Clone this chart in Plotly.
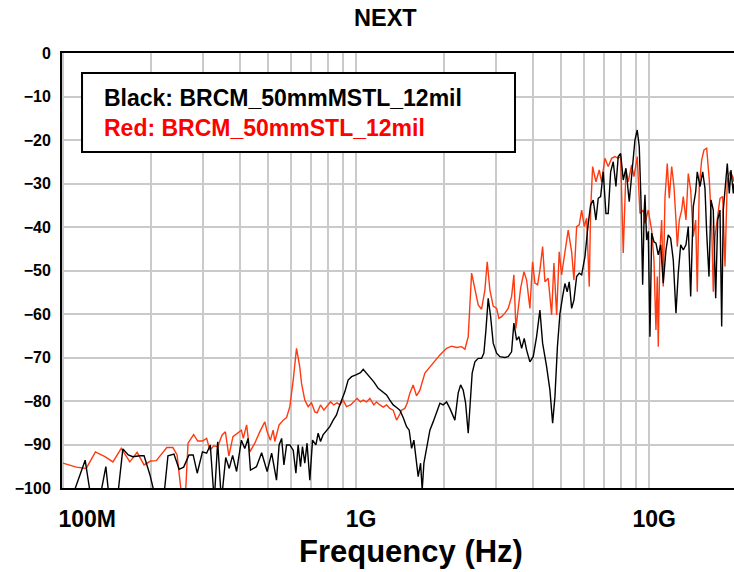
import math
import plotly.graph_objects as go

# NEXT crosstalk, magnitude in dB versus frequency in MHz
red_freq_mhz = [
    100, 111, 120, 129, 139, 148, 158, 169, 179, 189, 199, 208, 226, 237, 245, 255, 261,
    267, 279, 288, 299, 309, 317, 327, 337, 349, 358, 368, 380, 396, 406, 412, 423, 434,
    451, 469, 488, 497, 510, 521, 528, 546, 564, 579, 594, 610, 626, 642, 651, 668, 686,
    704, 723, 736, 756, 776, 796, 818, 839, 861, 880, 903, 927, 957, 982, 1008, 1035,
    1057, 1085, 1114, 1149, 1174, 1205, 1237, 1270, 1303, 1338, 1374, 1410, 1429, 1466,
    1493, 1525, 1565, 1607, 1650, 1716, 1809, 1931, 2035, 2117, 2202, 2290, 2350, 2412,
    2477, 2542, 2609, 2679, 2749, 2800, 2860, 2935, 3015, 3069, 3135, 3217, 3302, 3391,
    3453, 3508, 3572, 3640, 3736, 3816, 3916, 3999, 4073, 4160, 4236, 4327, 4406, 4522,
    4644, 4729, 4831, 4930, 5023, 5156, 5290, 5435, 5534, 5653, 5770, 5880, 6002, 6115,
    6242, 6310, 6409, 6578, 6751, 6879, 7060, 7245, 7442, 7636, 7837, 7987, 8152, 8327,
    8478, 8708, 8867, 9099, 9296, 9539, 9668, 9922, 10190, 10376, 10541, 10649, 10733,
    10877, 11023, 11163, 11313, 11519, 11703, 11926, 12143, 12335, 12463, 12660, 12901,
    13062, 13344, 13587, 13846, 14132, 14401, 14582, 14813, 15095, 15371, 15700, 16025,
    16331, 16536, 16758, 17065, 17431, 17804, 18131, 18460, 18855, 19259, 19459,
]
red_db = [
    -94.3, -95.2, -95.5, -91.7, -92.8, -94.0, -90.9, -94.0, -91.8, -94.7, -93.8, -93.7,
    -90.7, -90.7, -92.4, -103.0, -103.0, -89.7, -87.7, -89.2, -89.2, -88.6, -91.3, -90.3,
    -90.5, -87.8, -87.1, -92.6, -88.2, -87.3, -86.7, -88.6, -85.5, -91.7, -89.7, -87.1,
    -84.8, -87.1, -89.0, -86.7, -89.3, -85.5, -84.4, -83.8, -81.3, -75.2, -67.9, -72.1,
    -75.9, -79.8, -81.3, -80.4, -82.5, -82.7, -80.9, -82.1, -81.3, -80.2, -80.9, -80.4,
    -80.9, -79.8, -81.3, -80.9, -80.2, -79.4, -80.2, -79.8, -80.2, -79.4, -80.9, -80.2,
    -80.9, -81.4, -80.9, -81.7, -82.1, -84.4, -83.0, -82.1, -81.7, -80.5, -78.2, -76.3,
    -78.8, -77.5, -73.6, -71.7, -69.4, -67.9, -67.4, -67.7, -67.5, -68.1, -65.2, -50.6,
    -54.1, -57.9, -58.9, -54.5, -48.0, -54.5, -58.2, -58.7, -61.0, -60.6, -59.8, -58.7,
    -56.0, -51.0, -63.3, -58.3, -54.1, -50.3, -52.2, -58.7, -48.0, -52.9, -53.3, -49.9,
    -44.5, -52.6, -51.8, -60.2, -48.3, -60.2, -45.7, -51.0, -46.0, -40.7, -45.7, -52.2,
    -39.9, -39.5, -36.1, -39.9, -38.0, -53.7, -36.1, -26.1, -29.6, -26.9, -29.6, -24.2,
    -26.1, -24.2, -23.8, -24.2, -23.8, -46.0, -26.9, -29.6, -25.7, -28.4, -23.8, -36.9,
    -36.1, -39.2, -36.1, -40.7, -47.6, -63.7, -51.4, -67.5, -45.3, -38.4, -53.7, -33.4,
    -25.4, -33.4, -26.1, -30.7, -38.4, -44.5, -38.4, -36.1, -33.0, -38.4, -27.7, -31.5,
    -42.2, -38.4, -54.9, -30.7, -24.6, -22.3, -21.9, -29.2, -39.9, -54.9, -42.2, -38.4,
    -33.4, -33.0, -49.1, -29.2, -27.3, -28.4, -29.6,
]

black_freq_mhz = [
    100, 110, 119, 125, 133, 140, 144, 153, 160, 167, 173, 183, 189, 198, 208, 220, 228,
    239, 249, 258, 269, 278, 287, 299, 309, 318, 328, 337, 347, 359, 369, 379, 391, 406,
    417, 428, 436, 457, 476, 497, 515, 535, 546, 557, 567, 579, 594, 610, 623, 634, 646,
    656, 668, 680, 695, 710, 729, 742, 756, 771, 793, 813, 835, 857, 875, 899, 915, 939,
    965, 998, 1035, 1057, 1085, 1114, 1149, 1189, 1231, 1270, 1303, 1338, 1374, 1410,
    1447, 1486, 1517, 1546, 1574, 1607, 1628, 1659, 1680, 1703, 1739, 1785, 1831, 1881,
    1931, 1981, 2035, 2088, 2143, 2172, 2229, 2272, 2319, 2363, 2412, 2444, 2488, 2542,
    2609, 2679, 2728, 2772, 2822, 2876, 2935, 3015, 3093, 3217, 3302, 3391, 3453, 3527,
    3592, 3669, 3745, 3816, 3916, 4019, 4127, 4236, 4327, 4465, 4583, 4681, 4767, 4861,
    4957, 5063, 5156, 5249, 5333, 5435, 5534, 5653, 5770, 5880, 6034, 6192, 6310, 6440,
    6578, 6697, 6825, 6966, 7116, 7245, 7384, 7535, 7697, 7837, 7987, 8152, 8327, 8545,
    8708, 8937, 9099, 9244, 9369, 9495, 9614, 9668, 9797, 9922, 10055, 10190, 10376,
    10541, 10733, 10937, 11163, 11402, 11610, 11830, 12076, 12335, 12560, 12800, 13062,
    13344, 13587, 13846, 14132, 14401, 14582, 14894, 15216, 15492, 15700, 15988, 16240,
    16536, 16851, 17118, 17431, 17664, 17889, 18173, 18460, 18750, 19002, 19355, 19459,
]
black_db = [
    -108.0, -100.0, -93.6, -103.0, -103.0, -95.1, -103.0, -103.0, -91.0, -92.4, -92.8,
    -92.6, -92.6, -97.0, -103.0, -103.0, -92.6, -92.2, -95.7, -95.2, -92.4, -92.4, -96.6,
    -91.7, -92.0, -90.1, -103.0, -89.4, -103.0, -93.0, -95.5, -92.5, -96.2, -89.0, -90.9,
    -88.6, -95.9, -95.1, -91.9, -96.2, -92.0, -98.2, -90.1, -88.6, -94.7, -90.1, -90.1,
    -91.3, -96.6, -90.1, -95.1, -90.5, -94.3, -89.7, -98.2, -89.0, -90.1, -87.4, -89.3,
    -87.8, -86.7, -85.9, -84.4, -83.2, -81.3, -79.4, -77.9, -75.2, -74.4, -74.0, -73.5,
    -72.7, -73.6, -74.4, -75.6, -77.1, -77.9, -78.6, -79.8, -80.9, -81.5, -82.1, -83.8,
    -85.9, -86.7, -90.9, -89.0, -93.6, -97.4, -94.3, -100.5, -94.3, -90.5, -86.7, -84.8,
    -82.5, -80.5, -80.9, -80.2, -81.7, -83.6, -84.4, -78.2, -76.3, -77.5, -80.5, -87.4,
    -80.5, -73.6, -71.0, -70.2, -70.2, -69.0, -63.7, -56.4, -60.6, -66.7, -69.0, -69.8,
    -70.0, -69.8, -68.7, -62.1, -66.0, -65.2, -67.9, -65.6, -68.3, -71.0, -69.8, -65.2,
    -59.1, -66.7, -72.1, -77.5, -85.1, -79.0, -67.5, -60.0, -56.0, -53.0, -54.9, -52.6,
    -58.7, -56.8, -51.4, -50.6, -51.0, -46.8, -39.2, -34.9, -33.8, -38.4, -33.4, -33.0,
    -27.3, -36.9, -36.9, -27.3, -25.0, -30.7, -23.8, -23.1, -29.2, -26.5, -34.2, -28.0,
    -20.0, -17.7, -21.5, -33.8, -53.3, -36.1, -32.6, -43.0, -41.0, -65.2, -41.4, -43.4,
    -43.7, -46.4, -44.1, -52.9, -45.3, -41.8, -42.6, -47.6, -59.8, -50.6, -44.1, -45.3,
    -44.1, -39.9, -56.0, -35.3, -31.9, -27.3, -30.7, -27.3, -31.1, -41.4, -51.4, -33.8,
    -36.1, -56.4, -38.4, -36.1, -62.9, -36.1, -31.5, -25.4, -32.3, -26.9, -32.3, -30.0,
]

# gridlines at every 1..9 multiple per decade, labels only on decades
grid_mhz = [m * d for d in (100, 1000, 10000) for m in range(1, 10)] + [20000]
decade_labels = {100: "\u00a0\u00a0\u00a0\u00a0\u00a0\u00a0100M", 1000: "1G", 10000: "10G"}
grid_text = [decade_labels.get(v, "") for v in grid_mhz]
y_ticks = [0, -10, -20, -30, -40, -50, -60, -70, -80, -90, -100]

legend_lines = ["Black: BRCM_50mmMSTL_12mil", "Red: BRCM_50mmSTL_12mil"]

FONT = "Liberation Sans, Arial, sans-serif"

fig = go.Figure()
fig.add_trace(go.Scatter(
    x=red_freq_mhz, y=red_db, mode="lines",
    line=dict(color="#ff3a10", width=1.4), name=legend_lines[1], showlegend=False,
))
fig.add_trace(go.Scatter(
    x=black_freq_mhz, y=black_db, mode="lines",
    line=dict(color="#000000", width=1.4), name=legend_lines[0], showlegend=False,
))

fig.update_layout(
    width=734, height=572,
    margin=dict(l=62, r=0, t=53, b=84),
    paper_bgcolor="white", plot_bgcolor="white",
    font=dict(family=FONT, color="black"),
    title=dict(
        text="<b>NEXT</b>", x=0.525, xanchor="center", y=0.969, yanchor="middle",
        font=dict(size=23.5, family=FONT, color="black"),
    ),
)

fig.update_xaxes(
    type="log",
    range=[math.log10(99.2), math.log10(19459)],
    tickmode="array", tickvals=grid_mhz, ticktext=grid_text,
    ticks="", ticklabelshift=5, ticklabelstandoff=9,
    tickfont=dict(size=23, family=FONT, color="black", weight="bold"),
    showgrid=True, gridcolor="#cacaca", gridwidth=1.5,
    showline=True, linecolor="black", linewidth=2, mirror=True,
    zeroline=False,
)
fig.update_yaxes(
    range=[-100, 0],
    tickmode="array", tickvals=y_ticks,
    ticks="", ticklabelstandoff=6,
    tickfont=dict(size=16, family=FONT, color="black", weight="bold"),
    showgrid=True, gridcolor="#cacaca", gridwidth=1.5,
    showline=True, linecolor="black", linewidth=2, mirror=False,
    zeroline=False,
)

# boxed legend text in the upper left of the plot
fig.add_shape(
    type="rect", xref="paper", yref="paper",
    x0=0.0298, x1=0.6741, y0=0.7724, y1=0.954,
    line=dict(color="black", width=2), fillcolor="white", layer="above",
)
fig.add_annotation(
    xref="paper", yref="paper", x=0.0595, y=0.8628,
    xanchor="left", yanchor="middle", align="left", showarrow=False,
    text=(f"<b>{legend_lines[0]}</b><br>"
          f"<b><span style='color:#ff0000'>{legend_lines[1]}</span></b>"),
    font=dict(size=23, family=FONT, color="black"),
)

# axis title
fig.add_annotation(
    xref="paper", yref="paper", x=0.5193, y=-0.146,
    xanchor="center", yanchor="middle", showarrow=False,
    text="<b>Frequency (Hz)</b>",
    font=dict(size=31, family=FONT, color="black"),
)

fig.write_html("out.html")
